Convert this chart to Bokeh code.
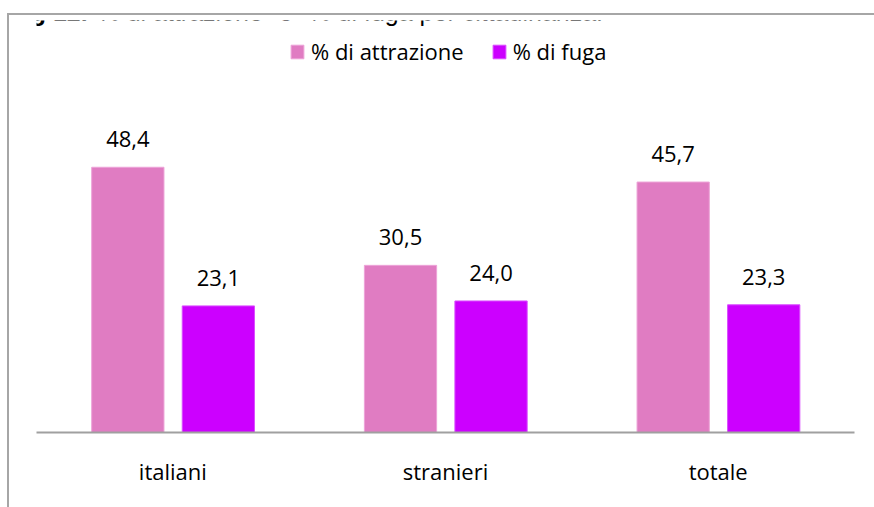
from bokeh.plotting import figure
from bokeh.models import FactorRange, ColumnDataSource, Legend, LegendItem, Label
from bokeh.transform import dodge
from bokeh.core.properties import value
from bokeh.embed import file_html
from bokeh.resources import INLINE

categories = ["italiani", "stranieri", "totale"]
attrazione = [48.4, 30.5, 45.7]
fuga = [23.1, 24.0, 23.3]
attr_labels = ["48,4", "30,5", "45,7"]
fuga_labels = ["23,1", "24,0", "23,3"]
series_names = ["% di attrazione", "% di fuga"]
title_bold = "Fig 12."
title_rest = '% di attrazione "e" % di fuga per cittadinanza.'

PINK = "#E07CC2"
PURPLE = "#CC00FF"
FONT = "Open Sans"
BORDER = "#A6A6A6"

W, H = 874, 507
p = figure(width=W, height=H,
           x_range=FactorRange(factors=categories, range_padding=0),
           y_range=(0, 75.18),
           y_axis_location=None,
           output_backend="svg", toolbar_location=None,
           min_border_left=36, min_border_right=20,
           min_border_top=20, min_border_bottom=75)

# transparent canvas so the page-level chart-area border (left + top edges) shows through
p.border_fill_color = None
p.background_fill_color = None
p.styles = {
    "background": (f"linear-gradient({BORDER},{BORDER}) 7px 13px / 2px 494px no-repeat, "
                   f"linear-gradient({BORDER},{BORDER}) 7px 13px / 867px 2px no-repeat, #ffffff"),
}

src = ColumnDataSource(dict(cat=categories, attr=attrazione, fuga=fuga,
                            al=attr_labels, fl=fuga_labels))

r1 = p.vbar(x=dodge('cat', -0.165, range=p.x_range), top='attr', width=0.265,
            source=src, fill_color=PINK, line_color="#EDA3D8", line_width=1)
r2 = p.vbar(x=dodge('cat', 0.167, range=p.x_range), top='fuga', width=0.265,
            source=src, fill_color=PURPLE, line_color="#DA4DFF", line_width=1)

p.text(x=dodge('cat', -0.165, range=p.x_range), y='attr', text='al', source=src,
       text_align='center', text_baseline='alphabetic', y_offset=-28,
       text_font=value(FONT), text_font_size="22px", text_color="#000000")
p.text(x=dodge('cat', 0.167, range=p.x_range), y='fuga', text='fl', source=src,
       text_align='center', text_baseline='alphabetic', y_offset=-28,
       text_font=value(FONT), text_font_size="22px", text_color="#000000")

legend = Legend(items=[LegendItem(label=series_names[0], renderers=[r1]),
                       LegendItem(label=series_names[1], renderers=[r2])],
                orientation="horizontal", location=(253, 366),
                glyph_width=16, glyph_height=17, label_standoff=6, spacing=27,
                padding=0, margin=0, border_line_color=None,
                background_fill_alpha=0,
                label_text_font=FONT, label_text_font_size="22px",
                label_text_color="#000000")
p.add_layout(legend)

ax = p.xaxis[0]
ax.axis_line_color = "#A0A0A0"
ax.axis_line_width = 2
ax.major_tick_line_color = None
ax.minor_tick_line_color = None
ax.major_label_standoff = 17
ax.major_label_text_font = FONT
ax.major_label_text_font_size = "22px"
ax.major_label_text_color = "#000000"

p.xgrid.visible = False
p.ygrid.visible = False
p.outline_line_color = None

p.add_layout(Label(x=-28, y=421, x_units="screen", y_units="screen", text=title_bold,
                   text_font="Liberation Sans", text_font_style="bold",
                   text_font_size="25px", text_baseline="alphabetic", text_color="#000000"))
p.add_layout(Label(x=61, y=421, x_units="screen", y_units="screen", text=title_rest,
                   text_font="Liberation Sans", text_font_size="25px",
                   text_baseline="alphabetic", text_color="#000000"))

open("out.html", "w").write(file_html(p, INLINE))
